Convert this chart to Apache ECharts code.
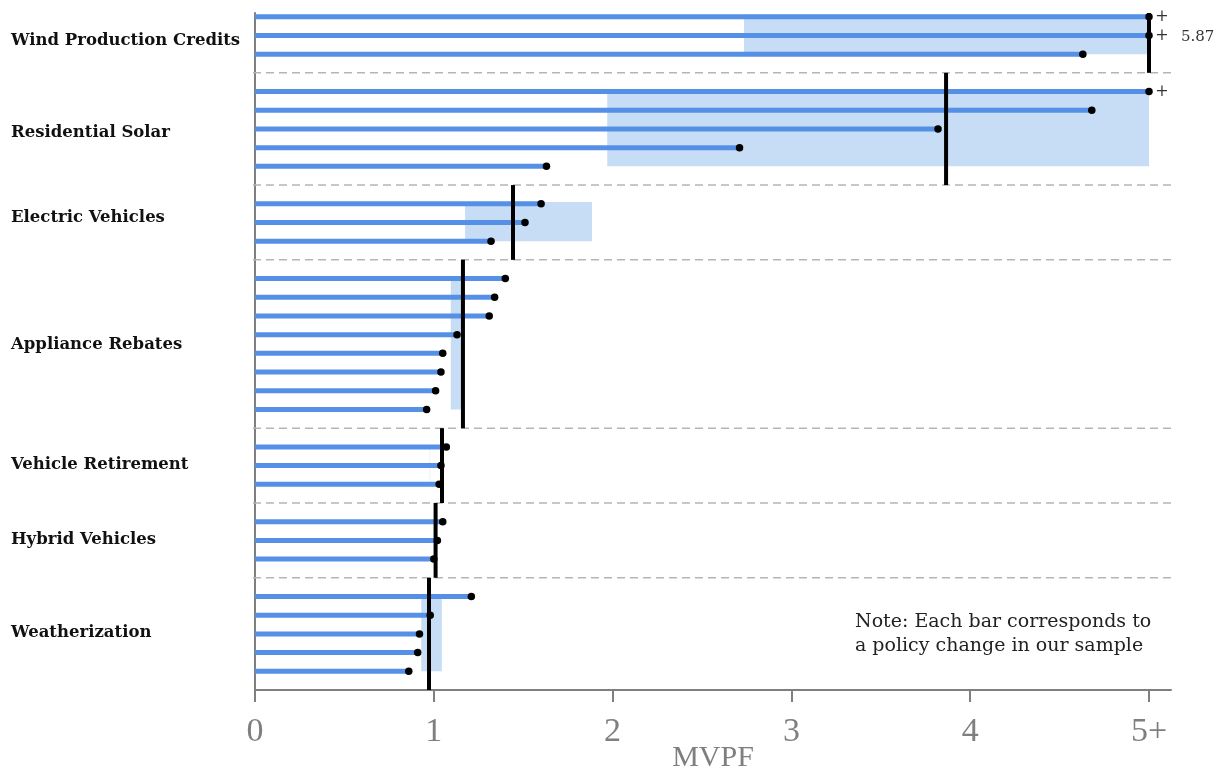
<!DOCTYPE html>
<html><head><meta charset="utf-8">
<script src="https://cdn.jsdelivr.net/npm/echarts@6/dist/echarts.min.js"></script>
<style>html,body{margin:0;padding:0;background:#fff}#c{width:1219px;height:771px}</style>
</head><body><div id="c"></div>
<script>
// ---- data ----
const groups = ['Wind Production Credits','Residential Solar','Electric Vehicles','Appliance Rebates','Vehicle Retirement','Hybrid Vehicles','Weatherization'];
const windProductionCredits = ['5+','5+',4.63];
const residentialSolar = ['5+',4.68,3.82,2.71,1.63];
const electricVehicles = [1.60,1.51,1.32];
const applianceRebates = [1.40,1.34,1.31,1.13,1.05,1.04,1.01,0.96];
const vehicleRetirement = [1.07,1.04,1.03];
const hybridVehicles = [1.05,1.02,1.00];
const weatherization = [1.21,0.98,0.92,0.91,0.86];
const groupMeans = [5.87,3.865,1.443,1.163,1.046,1.01,0.973];
const ciLow  = [2.735,1.97,1.175,1.095,0.975,1.0,0.93];
const ciHigh = [5.0,5.0,1.885,1.16,0.98,1.01,1.045];
const xTicks = [0,1,2,3,4,5];
const xTickLabels = ['0','1','2','3','4','5+'];
const CAP = 5;
const noteLines = ['Note: Each bar corresponds to','a policy change in our sample'];

const groupValues = [windProductionCredits,residentialSolar,electricVehicles,applianceRebates,vehicleRetirement,hybridVehicles,weatherization];

// ---- layout constants (pixels) ----
const labelNudge = [5, 4, -5, 1, -1, -1, -1];

// ---- build slots ----
let slot = 0;
const bars = [], plusMarks = [], seps = [], means = [], cis = [], labels = [];
const TOP = -0.2;
groupValues.forEach((vals, g) => {
  const start = slot;
  const top = g === 0 ? TOP : slot - 1;
  vals.forEach(v => {
    const capped = typeof v === 'string';
    const x = capped ? CAP : v;
    bars.push([x, slot]);
    if (capped) plusMarks.push([x, slot]);
    slot++;
  });
  const end = slot - 1;
  means.push([Math.min(groupMeans[g], CAP), top, slot, groupMeans[g] > CAP ? groupMeans[g].toFixed(2) : '', (start+end)/2]);
  cis.push([ciLow[g], ciHigh[g], start - 0.1, end]);
  labels.push([(start + end) / 2, groups[g]]);
  if (g < groupValues.length - 1) { seps.push([slot]); slot++; }
});
const YMAX = slot;
const XMAX = 5.123;

const BLUE = '#5590e6';
const SHADE = '#c6ddf5';
const GRAY = '#7f7f7f';

const chart = echarts.init(document.getElementById('c'), null, {renderer:'canvas'});
chart.setOption({
  animation: false,
  grid: {left: 255, right: 48, top: 13, bottom: 81, containLabel: false, outerBoundsMode: 'none'},
  xAxis: {
    type: 'value', min: 0, max: XMAX, position: 'bottom',
    name: 'MVPF', nameLocation: 'middle', nameGap: 53, nameMoveOverlap: false,
    nameTextStyle: {fontFamily: 'Liberation Serif', fontSize: 30, color: GRAY},
    axisLine: {show: true, onZero: false, lineStyle: {color: GRAY, width: 2}},
    axisTick: {show: true, inside: false, customValues: xTicks, length: 12, lineStyle: {color: GRAY, width: 2}},
    axisLabel: {customValues: xTicks, margin: 25, fontFamily: 'Liberation Serif', fontSize: 34, color: GRAY,
      formatter: v => xTickLabels[xTicks.indexOf(v)] ?? ''},
    splitLine: {show: false}
  },
  yAxis: {
    type: 'value', inverse: true, min: TOP, max: YMAX,
    axisLine: {show: true, onZero: false, lineStyle: {color: GRAY, width: 2}},
    axisTick: {show: false}, axisLabel: {show: false}, splitLine: {show: false}
  },
  series: [
    { // separators
      type: 'custom', z: 1, data: seps,
      renderItem: (p, api) => {
        const a = api.coord([0, api.value(0)]), b = api.coord([XMAX, api.value(0)]);
        return {type: 'line', shape: {x1: a[0] - 2, y1: a[1], x2: b[0], y2: b[1]},
          style: {stroke: '#b5b5b5', lineWidth: 1.5, lineDash: [8, 5]}};
      }
    },
    { // CI shading
      type: 'custom', z: 2, data: cis,
      renderItem: (p, api) => {
        const a = api.coord([api.value(0), api.value(2)]), b = api.coord([api.value(1), api.value(3)]);
        return {type: 'rect', shape: {x: a[0], y: a[1], width: Math.max(b[0] - a[0], 1), height: b[1] - a[1]},
          style: {fill: SHADE, opacity: p.dataIndex === 4 ? 0.35 : 1}};
      }
    },
    { // bars
      type: 'custom', z: 3, data: bars,
      renderItem: (p, api) => {
        const a = api.coord([0, api.value(1)]), b = api.coord([api.value(0), api.value(1)]);
        return {type: 'line', shape: {x1: a[0], y1: a[1], x2: b[0], y2: b[1]},
          style: {stroke: BLUE, lineWidth: 5, lineCap: 'butt'}};
      }
    },
    { // group means
      type: 'custom', z: 4, data: means,
      renderItem: (p, api) => {
        const a = api.coord([api.value(0), api.value(1)]), b = api.coord([api.value(0), api.value(2)]);
        const c = api.coord([api.value(0), api.value(4)]);
        const m = means[p.dataIndex];
        const children = [{type: 'line', shape: {x1: a[0], y1: a[1], x2: b[0], y2: b[1]},
          style: {stroke: '#000', lineWidth: 4}}];
        if (m[3]) children.push({type: 'text', x: c[0] + 32, y: c[1] + 2,
          style: {text: m[3], fontFamily: 'DejaVu Serif', fontSize: 15, fill: '#333', align: 'left', verticalAlign: 'middle'}});
        return {type: 'group', children};
      }
    },
    { // dots
      type: 'scatter', z: 5, data: bars, symbol: 'circle', symbolSize: 7.5,
      itemStyle: {color: '#000', opacity: 1}, silent: true
    },
    { // plus marks for capped values
      type: 'custom', z: 5, data: plusMarks,
      renderItem: (p, api) => {
        const c = api.coord([api.value(0), api.value(1)]);
        return {type: 'text', x: c[0] + 13, y: c[1],
          style: {text: '+', fontFamily: 'DejaVu Serif', fontSize: 16, fill: '#333', align: 'center', verticalAlign: 'middle'}};
      }
    },
    { // group labels
      type: 'custom', z: 6, data: labels.map(l => [0, l[0]]),
      renderItem: (p, api) => {
        const c = api.coord([0, api.value(1)]);
        return {type: 'text', x: 11, y: c[1] + labelNudge[p.dataIndex],
          style: {text: labels[p.dataIndex][1], fontFamily: 'DejaVu Serif', fontWeight: 'bold', fontSize: 16.5, fill: '#111', align: 'left', verticalAlign: 'middle'}};
      }
    }
  ],
  graphic: [{
    type: 'text', left: 855, top: 610,
    style: {text: noteLines.join('\n'), fontFamily: 'DejaVu Serif', fontSize: 19, lineHeight: 24, fill: '#222'}
  }]
});
</script></body></html>
